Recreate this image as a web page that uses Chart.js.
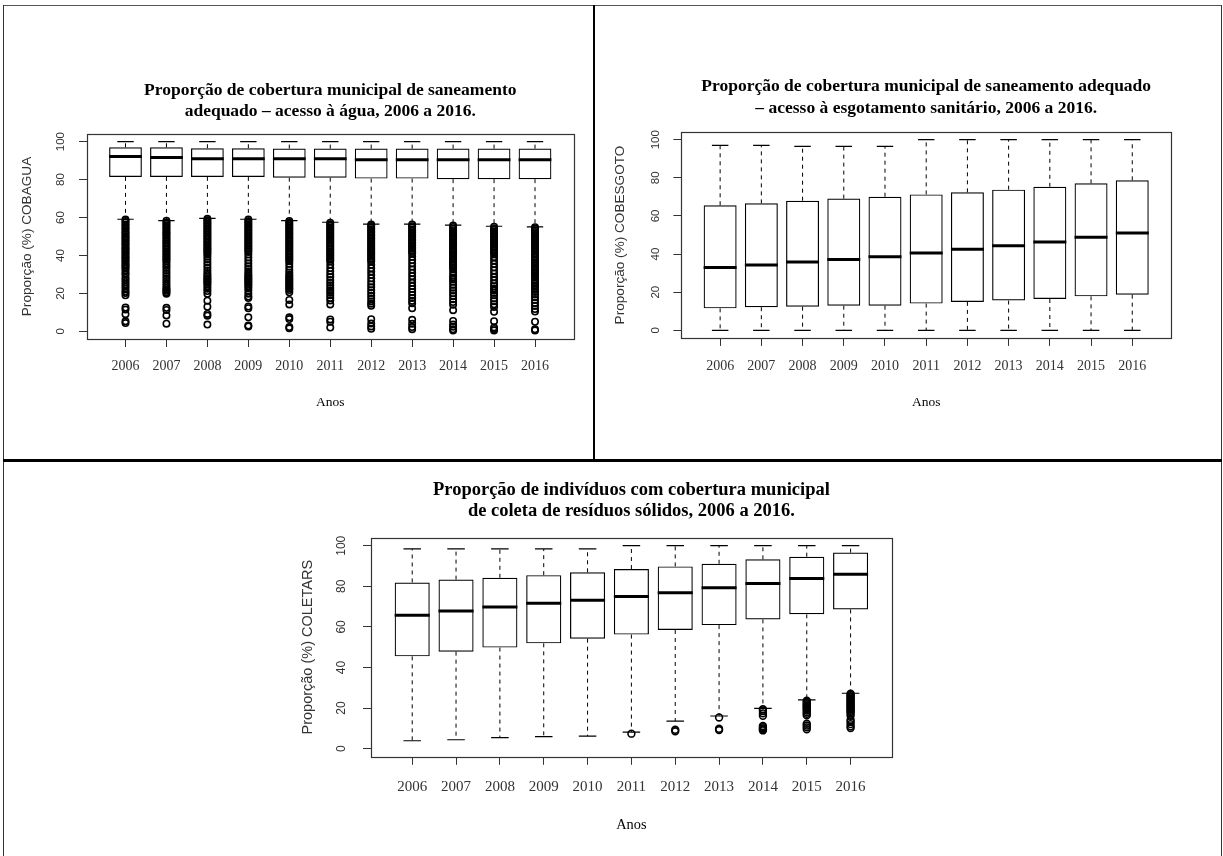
<!DOCTYPE html>
<html>
<head>
<meta charset="utf-8">
<script src="https://cdn.jsdelivr.net/npm/chart.js@4.4.1/dist/chart.umd.min.js"></script>
<style>
  html, body { margin: 0; padding: 0; background: #fff; }
  body { width: 1223px; height: 856px; position: relative; overflow: hidden; }
  .rule { position: absolute; background: #000; }
  canvas { position: absolute; }
</style>
</head>
<body>
<!-- table frame -->
<div class="rule" style="left:3px;top:5px;width:1219px;height:1px;background:#555"></div>
<div class="rule" style="left:3px;top:5px;width:1px;height:851px;background:#333"></div>
<div class="rule" style="left:1221px;top:5px;width:1px;height:851px;background:#333"></div>
<div class="rule" style="left:593px;top:5px;width:2px;height:455px"></div>
<div class="rule" style="left:3px;top:459px;width:1219px;height:3px"></div>

<canvas id="agua" width="587" height="450" style="left:5px;top:7px"></canvas>
<canvas id="esgoto" width="624" height="450" style="left:596px;top:7px"></canvas>
<canvas id="residuos" width="1215" height="393" style="left:5px;top:463px"></canvas>

<script>
// ---- data ----
const years = ['2006', '2007', '2008', '2009', '2010', '2011', '2012', '2013', '2014', '2015', '2016'];
const yTicks = [0, 20, 40, 60, 80, 100];

// COBAGUA: five-number summaries per year
const aguaMin = [59.1, 58.4, 59.5, 59.1, 58.4, 57.5, 56.5, 56.5, 56.0, 55.4, 55.1];
const aguaQ1  = [81.4, 81.4, 81.4, 81.4, 81.0, 81.0, 80.5, 80.5, 80.2, 80.2, 80.2];
const aguaMed = [92.1, 91.6, 91.0, 91.0, 91.0, 91.0, 90.5, 90.5, 90.5, 90.5, 90.5];
const aguaQ3  = [97.0, 97.0, 96.5, 96.5, 96.3, 96.3, 96.3, 96.3, 96.3, 96.3, 96.3];
const aguaMax = [100, 100, 100, 100, 100, 100, 100, 100, 100, 100, 100];
// COBAGUA: municipalities below the lower whisker, per year
const aguaOut = [
  [58.9, 58.2, 57.4, 56.3, 55.6, 54.5, 53.9, 52.8, 52.0, 51.2, 50.1, 49.5, 48.6, 47.7, 46.9, 46.0, 45.2, 44.1, 43.5, 42.6, 41.7, 40.9, 39.8, 39.1, 38.3, 37.4, 36.6, 35.5, 34.8, 33.9, 33.1, 32.0, 30.7, 29.8, 28.3, 27.2, 26.0, 24.9, 23.6, 22.5, 21.1, 20.3, 19.0, 12.6, 11.5, 9.1, 5.3, 4.4],
  [58.3, 57.5, 56.6, 55.8, 54.9, 54.1, 53.0, 52.3, 51.4, 50.6, 49.7, 48.8, 48.0, 47.1, 46.3, 45.4, 44.6, 43.7, 42.9, 42.0, 41.2, 40.3, 39.5, 38.6, 37.8, 36.9, 35.8, 34.6, 33.4, 32.0, 30.6, 29.2, 27.9, 26.5, 25.3, 24.0, 22.9, 22.1, 21.4, 20.6, 19.9, 12.4, 11.3, 8.4, 4.1],
  [59.3, 58.5, 57.6, 56.8, 55.9, 55.1, 54.2, 53.4, 52.5, 51.7, 50.8, 50.0, 49.1, 48.3, 47.4, 46.6, 45.7, 44.9, 44.0, 43.2, 42.3, 41.5, 40.6, 39.3, 37.9, 36.4, 35.0, 33.6, 32.1, 30.8, 29.7, 28.8, 28.0, 27.2, 26.4, 25.6, 24.8, 23.7, 22.5, 21.3, 19.8, 16.2, 13.0, 9.2, 8.3, 3.6],
  [58.9, 58.1, 57.2, 56.4, 55.5, 54.7, 53.8, 53.0, 52.1, 51.3, 50.4, 49.6, 48.7, 47.9, 47.0, 46.2, 45.3, 44.5, 43.6, 42.8, 41.9, 40.5, 39.0, 37.4, 35.8, 34.3, 32.9, 31.6, 30.4, 29.5, 28.7, 27.9, 27.1, 26.3, 25.5, 24.7, 23.8, 22.7, 21.4, 19.9, 18.4, 17.6, 13.1, 12.2, 7.4, 3.1, 2.6],
  [58.2, 57.4, 56.5, 55.7, 54.8, 54.0, 53.1, 52.3, 51.4, 50.6, 49.7, 48.9, 48.0, 47.2, 46.3, 45.5, 44.6, 43.8, 42.9, 42.1, 41.2, 40.4, 39.5, 38.7, 37.8, 37.0, 35.6, 34.0, 32.4, 31.1, 29.9, 29.0, 28.2, 27.4, 26.6, 25.8, 25.0, 24.2, 23.4, 22.6, 21.8, 20.6, 16.6, 14.2, 7.4, 6.5, 2.3, 1.6],
  [57.3, 56.5, 55.6, 54.8, 53.9, 53.1, 52.2, 51.4, 50.5, 49.7, 48.8, 48.0, 47.1, 46.3, 45.4, 44.6, 43.7, 42.9, 42.0, 41.2, 40.3, 39.5, 38.6, 37.8, 36.9, 35.2, 33.4, 31.7, 30.0, 28.6, 27.1, 25.7, 24.3, 22.9, 21.6, 20.4, 19.1, 17.6, 16.3, 14.2, 6.3, 5.1, 2.0],
  [56.3, 55.5, 54.6, 53.8, 52.9, 52.1, 51.2, 50.4, 49.5, 48.7, 47.8, 47.0, 46.1, 45.3, 44.4, 43.6, 42.7, 41.9, 41.0, 40.2, 39.3, 38.5, 37.6, 36.8, 35.1, 33.3, 31.6, 29.8, 28.0, 26.3, 24.7, 23.2, 21.7, 20.3, 18.8, 17.3, 15.8, 14.6, 13.5, 6.4, 4.2, 2.6, 1.4],
  [56.3, 55.4, 54.6, 53.7, 52.9, 52.0, 51.2, 50.3, 49.5, 48.6, 47.8, 46.9, 46.1, 45.2, 44.4, 43.5, 42.7, 41.8, 41.0, 39.3, 37.6, 35.9, 34.2, 32.6, 30.8, 29.1, 27.4, 25.6, 23.9, 22.3, 20.7, 19.2, 17.6, 16.1, 14.8, 12.2, 6.1, 4.0, 2.3, 1.2],
  [55.8, 55.0, 54.1, 53.3, 52.4, 51.6, 50.7, 49.9, 49.0, 48.2, 47.3, 46.5, 45.6, 44.8, 43.9, 43.1, 42.2, 41.4, 40.5, 39.7, 38.8, 38.0, 37.1, 36.3, 35.4, 34.6, 33.7, 32.9, 31.2, 29.5, 28.4, 27.3, 26.1, 24.6, 23.0, 21.5, 20.1, 18.6, 17.0, 15.5, 14.1, 11.2, 5.5, 3.6, 2.4, 1.1, 0.5],
  [55.2, 54.4, 53.5, 52.7, 51.8, 51.0, 50.1, 49.3, 48.4, 47.6, 46.7, 45.9, 45.0, 44.2, 43.3, 42.5, 41.6, 40.8, 39.1, 37.3, 35.6, 33.8, 32.1, 30.4, 28.6, 26.9, 25.2, 23.8, 22.6, 21.5, 20.3, 19.0, 17.4, 15.9, 14.3, 12.8, 10.3, 5.4, 2.1, 1.3, 0.5],
  [54.9, 54.1, 53.2, 52.4, 51.5, 50.7, 49.8, 49.0, 48.1, 47.3, 46.4, 45.6, 44.7, 43.9, 43.0, 42.2, 41.3, 40.5, 39.6, 38.8, 37.9, 37.1, 36.2, 35.4, 34.5, 33.7, 32.8, 32.0, 31.1, 30.3, 29.4, 28.6, 27.2, 25.9, 25.1, 24.3, 23.5, 22.7, 21.9, 20.8, 19.4, 18.0, 16.5, 15.0, 13.4, 11.8, 10.5, 5.1, 1.1, 0.5]
];

// COBESGOTO
const esgMin = [0, 0, 0, 0, 0, 0, 0, 0, 0, 0, 0];
const esgQ1  = [11.5, 12.1, 12.4, 12.9, 12.9, 14.0, 14.9, 15.6, 16.4, 17.8, 18.7];
const esgMed = [32.9, 34.3, 35.8, 37.1, 38.6, 40.6, 42.5, 44.4, 46.3, 48.8, 51.0];
const esgQ3  = [65.6, 66.6, 68.0, 69.1, 70.1, 71.3, 72.4, 73.8, 75.3, 77.1, 78.7];
const esgMax = [97.0, 97.0, 96.5, 96.5, 96.5, 100, 100, 100, 100, 100, 100];
const esgOut = [[], [], [], [], [], [], [], [], [], [], []];

// COLETARS
const resMin = [3.9, 4.4, 5.4, 5.9, 6.2, 8.2, 13.6, 16.1, 19.9, 24.0, 27.3];
const resQ1  = [45.5, 47.8, 49.8, 51.9, 54.2, 56.2, 58.5, 60.9, 63.7, 66.2, 68.6];
const resMed = [65.8, 67.8, 69.8, 71.6, 73.1, 75.0, 76.8, 79.3, 81.4, 83.9, 86.0];
const resQ3  = [81.9, 83.3, 84.2, 85.5, 86.9, 88.5, 89.8, 91.1, 93.3, 94.6, 96.6];
const resMax = [98.4, 98.4, 98.4, 98.4, 98.4, 100, 100, 100, 100, 100, 100];
const resOut = [
  [], [], [], [], [],
  [7.4],
  [9.3, 8.6],
  [15.4, 9.8, 9.2],
  [19.4, 18.6, 17.4, 16.2, 11.2, 10.6, 10.0, 9.5, 9.0],
  [23.6, 23.0, 22.4, 21.8, 21.2, 20.6, 20.0, 19.4, 18.8, 18.0, 17.2, 16.4, 12.3, 11.4, 10.5, 9.6],
  [27.1, 26.5, 25.9, 25.3, 24.7, 24.1, 23.5, 22.9, 22.3, 21.7, 21.1, 20.5, 19.9, 19.3, 18.7, 18.1, 17.3, 16.2, 14.1, 13.2, 12.1, 11.0, 10.2]
];

// ---- drawing ----
const SERIF = "'Liberation Serif', 'Times New Roman', serif";
const SANS = "'Liberation Sans', Arial, sans-serif";
const INK = '#333';

const panelStats = {};

// Whiskers, staples, medians, plot frame and upright y tick labels (R-style boxplot parts)
const boxplotParts = {
  id: 'boxplotParts',
  afterDatasetsDraw(chart) {
    const s = panelStats[chart.canvas.id];
    const {ctx, chartArea: a, scales: {x, y}} = chart;
    const bars = chart.getDatasetMeta(0).data;
    ctx.save();
    ctx.strokeStyle = '#000';
    bars.forEach((bar, i) => {
      const cx = x.getPixelForValue(i + 1);
      const half = bar.width / 2;
      const yLo = y.getPixelForValue(s.lo[i]);
      const yHi = y.getPixelForValue(s.hi[i]);
      const yQ1 = y.getPixelForValue(s.q1[i]);
      const yQ3 = y.getPixelForValue(s.q3[i]);
      const yMed = y.getPixelForValue(s.med[i]);
      // dashed whiskers
      ctx.lineWidth = 1;
      ctx.setLineDash([4, 4]);
      ctx.beginPath();
      ctx.moveTo(cx, yQ3); ctx.lineTo(cx, yHi);
      ctx.moveTo(cx, yQ1); ctx.lineTo(cx, yLo);
      ctx.stroke();
      ctx.setLineDash([]);
      // staples
      ctx.lineWidth = 1.2;
      ctx.beginPath();
      ctx.moveTo(cx - half / 2, yHi); ctx.lineTo(cx + half / 2, yHi);
      ctx.moveTo(cx - half / 2, yLo); ctx.lineTo(cx + half / 2, yLo);
      ctx.stroke();
      // median
      ctx.lineWidth = 3;
      ctx.beginPath();
      ctx.moveTo(cx - half, yMed); ctx.lineTo(cx + half, yMed);
      ctx.stroke();
    });
    // plot frame
    ctx.lineWidth = 1.2;
    ctx.strokeStyle = INK;
    ctx.strokeRect(Math.round(a.left) + 0.5, Math.round(a.top) + 0.5,
                   Math.round(a.right - a.left), Math.round(a.bottom - a.top));
    // y tick labels, reading upwards as in R's default axis style
    ctx.fillStyle = INK;
    ctx.font = s.yTickFont;
    ctx.textAlign = 'center';
    ctx.textBaseline = 'middle';
    yTicks.forEach(v => {
      ctx.save();
      ctx.translate(a.left + s.yTickOffset, y.getPixelForValue(v));
      ctx.rotate(-Math.PI / 2);
      ctx.fillText(String(v), 0, 0);
      ctx.restore();
    });
    ctx.restore();
  }
};

function makePanel(id, p) {
  panelStats[id] = {lo: p.lo, q1: p.q1, med: p.med, q3: p.q3, hi: p.hi,
                    yTickFont: p.yTickFont, yTickOffset: p.yTickOffset};
  const boxData = years.map((_, i) => ({x: i + 1, y: [p.q1[i], p.q3[i]]}));
  const outData = [];
  p.out.forEach((vals, i) => vals.forEach(v => outData.push({x: i + 1, y: v})));

  return new Chart(document.getElementById(id), {
    type: 'scatter',
    data: {
      datasets: [
        {
          type: 'bar', data: boxData,
          backgroundColor: 'rgba(0,0,0,0)', borderColor: '#000', borderWidth: 1.2,
          borderSkipped: false, categoryPercentage: 1, barPercentage: 0.8, order: 2
        },
        {
          type: 'scatter', data: outData,
          pointStyle: 'circle', pointRadius: p.pointRadius,
          pointBorderColor: '#000', pointBackgroundColor: 'rgba(0,0,0,0)',
          pointBorderWidth: 1.6, order: 1
        }
      ]
    },
    options: {
      responsive: false,
      animation: false,
      events: [],
      layout: {padding: {left: 0, right: p.padRight, top: 0, bottom: 0}},
      plugins: {
        legend: {display: false},
        tooltip: {enabled: false},
        title: {
          display: true, fullSize: false,
          text: p.title,
          color: '#000',
          font: {family: SERIF, size: p.titleSize, weight: 'bold', lineHeight: '21.7px'},
          padding: {top: p.titlePadTop, bottom: p.titlePadBottom}
        }
      },
      scales: {
        x: {
          type: 'linear', min: 0.06, max: 11.94, offset: false,
          afterBuildTicks: sc => { sc.ticks = years.map((_, i) => ({value: i + 1})); },
          afterFit: sc => { sc.height = p.xHeight; },
          ticks: {
            autoSkip: false, maxRotation: 0, minRotation: 0,
            padding: p.xTickPad, color: INK,
            font: {family: SERIF, size: p.xTickSize, lineHeight: 1.2},
            callback: v => years[v - 1]
          },
          grid: {drawOnChartArea: false, drawTicks: true, tickLength: 8, color: INK, offset: false},
          border: {display: false},
          title: {
            display: true, text: 'Anos', color: '#000',
            font: {family: SERIF, size: p.anosSize, lineHeight: 1.2},
            padding: {top: 0, bottom: p.anosPad}
          }
        },
        y: {
          type: 'linear', min: -4, max: 104,
          afterBuildTicks: sc => { sc.ticks = yTicks.map(v => ({value: v})); },
          afterFit: sc => { sc.width = p.yWidth; },
          ticks: {display: false},
          grid: {drawOnChartArea: false, drawTicks: true, tickLength: 8, color: INK},
          border: {display: false},
          title: {
            display: true, text: p.yTitle, color: INK,
            font: {family: SANS, size: p.yTitleSize, lineHeight: 1.2},
            padding: {top: p.yTitlePad, bottom: 0}
          }
        }
      }
    },
    plugins: [boxplotParts]
  });
}

makePanel('agua', {
  lo: aguaMin, q1: aguaQ1, med: aguaMed, q3: aguaQ3, hi: aguaMax, out: aguaOut,
  title: ['Proporção de cobertura municipal de saneamento', 'adequado – acesso à água, 2006 a 2016.'],
  yTitle: 'Proporção (%) COBAGUA',
  titleSize: 17.5, titlePadTop: 72.15, titlePadBottom: 11.45,
  yWidth: 82, xHeight: 118, padRight: 18.5,
  yTitleSize: 13.6, yTitlePad: 13.8,
  yTickFont: "11.5px " + SANS, yTickOffset: -26,
  xTickSize: 14, xTickPad: 10.6,
  anosSize: 13.5, anosPad: 46.9,
  pointRadius: 3.2
});

makePanel('esgoto', {
  lo: esgMin, q1: esgQ1, med: esgMed, q3: esgQ3, hi: esgMax, out: esgOut,
  title: ['Proporção de cobertura municipal de saneamento adequado', '– acesso à esgotamento sanitário, 2006 a 2016.'],
  yTitle: 'Proporção (%) COBESGOTO',
  titleSize: 17.5, titlePadTop: 68.85, titlePadBottom: 12.85,
  yWidth: 85.4, xHeight: 119.1, padRight: 49,
  yTitleSize: 13.6, yTitlePad: 16.5,
  yTickFont: "11.5px " + SANS, yTickOffset: -25.8,
  xTickSize: 14, xTickPad: 11.7,
  anosSize: 13.5, anosPad: 46.9,
  pointRadius: 3.2
});

makePanel('residuos', {
  lo: resMin, q1: resQ1, med: resMed, q3: resQ3, hi: resMax, out: resOut,
  title: ['Proporção de indivíduos com cobertura municipal', 'de coleta de resíduos sólidos, 2006 a 2016.'],
  yTitle: 'Proporção (%) COLETARS',
  titleSize: 18.5, titlePadTop: 16.15, titlePadBottom: 15.05,
  yWidth: 366, xHeight: 99.2, padRight: 328.2,
  yTitleSize: 14.5, yTitlePad: 294.1,
  yTickFont: "12px " + SANS, yTickOffset: -29.6,
  xTickSize: 15, xTickPad: 12.9,
  anosSize: 14.4, anosPad: 22.4,
  pointRadius: 3.4
});
</script>
</body>
</html>
